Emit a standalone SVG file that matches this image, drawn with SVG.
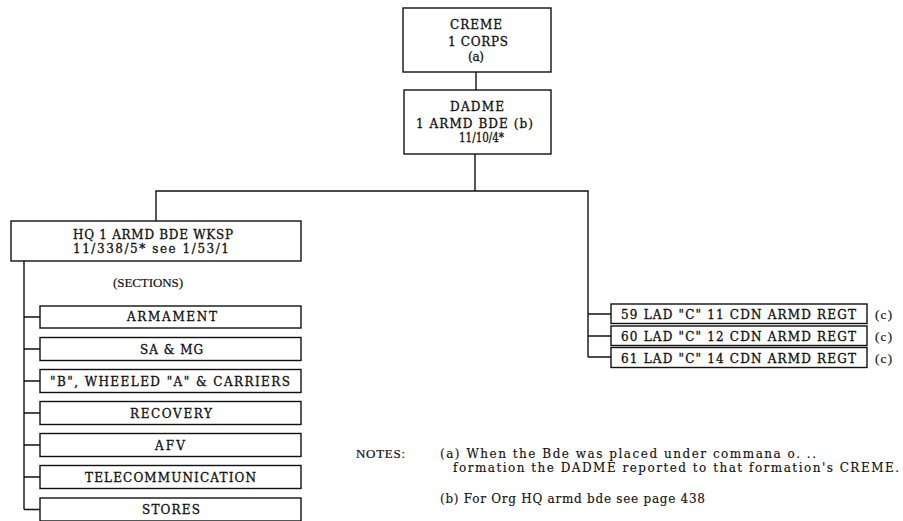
<svg xmlns="http://www.w3.org/2000/svg" width="903" height="521" viewBox="0 0 903 521">
<style>
rect{fill:#fff;stroke:#111;stroke-width:1.4}
.c path{fill:none;stroke:#111;stroke-width:1.4}
text{font-family:"DejaVu Serif","Liberation Serif",serif;font-size:12px;fill:#111;stroke:#111;stroke-width:0.3}
.n{stroke-width:0.15}
.t{font-family:"Liberation Serif","Times New Roman",serif;font-size:13px;stroke-width:0.2}
</style>
<rect x="0" y="0" width="903" height="521" style="stroke:none;fill:#fff"/>
<g class="c" id="connectors">
<path d="M476 72V90"/>
<path d="M475 154V191"/>
<path d="M156 221V191H588V357"/>
<path d="M588 314H611M588 336H611M588 357H611"/>
<path d="M24 261V509.5"/>
<path d="M24 317H40M24 349H40M24 381H40M24 413H40M24 445H40M24 477H40M24 509.5H40"/>
</g>
<g id="creme">
<rect x="403" y="8" width="148" height="64"/>
<text x="450" y="28.5" textLength="52" lengthAdjust="spacing">CREME</text>
<text x="448" y="45.5" textLength="60" lengthAdjust="spacing">1 CORPS</text>
<text x="468" y="61" textLength="16" lengthAdjust="spacing">(a)</text>
</g>
<g id="dadme">
<rect x="404" y="90" width="147" height="64"/>
<text x="450" y="111" textLength="54" lengthAdjust="spacing">DADME</text>
<text x="416" y="128" textLength="117" lengthAdjust="spacing">1 ARMD BDE (b)</text>
<text x="459" y="141.5" textLength="45" lengthAdjust="spacingAndGlyphs">11/10/4*</text>
</g>
<g id="hq">
<rect x="11" y="221" width="290" height="40"/>
<text x="73" y="239" textLength="160" lengthAdjust="spacing">HQ 1 ARMD BDE WKSP</text>
<text x="73" y="252.5" textLength="156" lengthAdjust="spacing">11/338/5* see 1/53/1</text>
</g>
<g id="sections-label">
<text x="113" y="287" textLength="70" lengthAdjust="spacing" class="t">(SECTIONS)</text>
</g>
<g id="armament">
<rect x="40" y="306" width="261" height="22"/>
<text x="127" y="321" textLength="90" lengthAdjust="spacing">ARMAMENT</text>
</g>
<g id="samg">
<rect x="40" y="337.5" width="261" height="23"/>
<text x="140" y="353.5" textLength="63" lengthAdjust="spacing">SA &amp; MG</text>
</g>
<g id="bveh">
<rect x="40" y="369.5" width="261" height="23"/>
<text x="50" y="385.5" textLength="240" lengthAdjust="spacing">"B", WHEELED "A" &amp; CARRIERS</text>
</g>
<g id="recovery">
<rect x="40" y="401.5" width="261" height="23"/>
<text x="130" y="417.5" textLength="82" lengthAdjust="spacing">RECOVERY</text>
</g>
<g id="afv">
<rect x="40" y="433.5" width="261" height="23"/>
<text x="155" y="449.5" textLength="30" lengthAdjust="spacing">AFV</text>
</g>
<g id="telecom">
<rect x="40" y="465.5" width="261" height="23"/>
<text x="85" y="481.5" textLength="171" lengthAdjust="spacing">TELECOMMUNICATION</text>
</g>
<g id="stores">
<rect x="40" y="498" width="261" height="23"/>
<text x="142" y="514" textLength="58" lengthAdjust="spacing">STORES</text>
</g>
<g id="lad59">
<rect x="611" y="304" width="256" height="19.5"/>
<text x="621" y="319.3" textLength="235" lengthAdjust="spacing">59 LAD "C" 11 CDN ARMD REGT</text>
<text x="875" y="319.3" textLength="17" lengthAdjust="spacing" class="t">(c)</text>
</g>
<g id="lad60">
<rect x="611" y="326" width="256" height="19.5"/>
<text x="621" y="340.7" textLength="235" lengthAdjust="spacing">60 LAD "C" 12 CDN ARMD REGT</text>
<text x="875" y="340.7" textLength="17" lengthAdjust="spacing" class="t">(c)</text>
</g>
<g id="lad61">
<rect x="611" y="347.5" width="256" height="20"/>
<text x="621" y="362.7" textLength="235" lengthAdjust="spacing">61 LAD "C" 14 CDN ARMD REGT</text>
<text x="875" y="362.7" textLength="17" lengthAdjust="spacing" class="t">(c)</text>
</g>
<g id="notes">
<text x="356" y="458" textLength="49" lengthAdjust="spacing" class="t">NOTES:</text>
<text x="440" y="458" textLength="376" lengthAdjust="spacing" class="n">(a) When the Bde was placed under commana o. ..</text>
<text x="453" y="472" textLength="446" lengthAdjust="spacing" class="n">formation the DADME reported to that formation's CREME.</text>
<text x="440" y="503" textLength="265" lengthAdjust="spacing" class="n">(b) For Org HQ armd bde see page 438</text>
</g>
</svg>
